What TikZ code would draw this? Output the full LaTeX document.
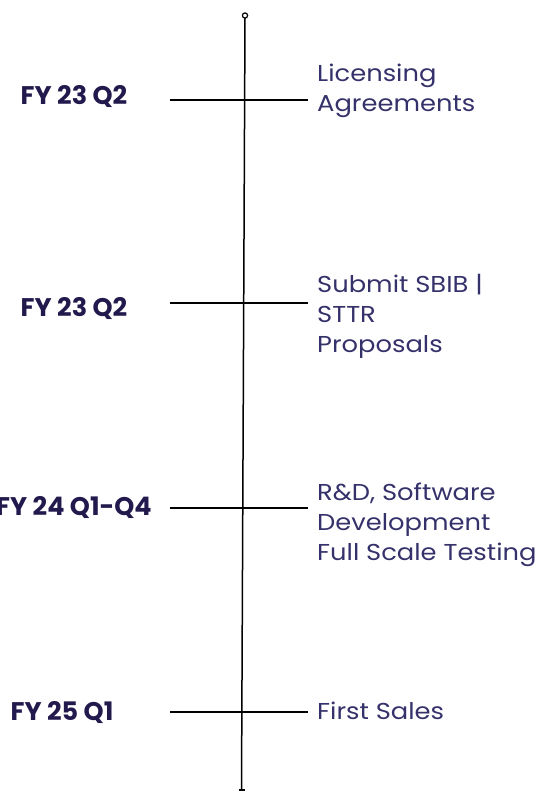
\documentclass[tikz,border=0pt]{standalone}
\usepackage{fontspec}
\setmainfont{Poppins}
\newfontfamily\evfont[FakeStretch=1.12]{Poppins}
\definecolor{navy}{HTML}{22194D}
\definecolor{navylt}{HTML}{35316A}
\begin{document}
\begin{tikzpicture}[x=1pt,y=-1pt,
  fy/.style={font=\fontsize{25.5}{28}\selectfont\bfseries,text=navy,inner sep=0pt},
  ev/.style={font=\evfont\fontsize{23}{30}\selectfont,text=navylt,inner sep=0pt,align=left,anchor=west},
  tick/.style={line width=1.3pt,black}]
\useasboundingbox (0,0) rectangle (540,793);
\coordinate (top) at (245,18);
\coordinate (bot) at (241.5,790);
\draw[line width=1.5pt] (top) -- (bot);
\draw[line width=1.2pt,fill=white] (245,15.5) circle (2.6);
\draw[line width=1.4pt] (238.5,790) -- (244.5,790);
% ticks
\coordinate (l1) at (170,100); \coordinate (r1) at (308,100);
\coordinate (l2) at (170,303); \coordinate (r2) at (308,303);
\coordinate (l3) at (170,508); \coordinate (r3) at (308,508);
\coordinate (l4) at (170,712); \coordinate (r4) at (308,712);
\draw[tick] (l1) -- (r1);
\draw[tick] (l2) -- (r2);
\draw[tick] (l3) -- (r3);
\draw[tick] (l4) -- (r4);
% left labels
\node[fy] (d1) at (74,97) {FY 23 Q2};
\node[fy] (d2) at (74,308) {FY 23 Q2};
\node[fy] (d3) at (74,508) {FY 24 Q1-Q4};
\node[fy] (d4) at (62,713) {FY 25 Q1};
% right labels
\node[ev] (e1) at (317,91) {Licensing\\Agreements};
\node[ev] (e2) at (317,316) {Submit SBIB |\\STTR\\Proposals};
\node[ev] (e3) at (317,524.5) {R\&D, Software\\Development\\Full Scale Testing};
\node[ev] (e4) at (317,710.5) {First Sales};
\end{tikzpicture}
\end{document}
